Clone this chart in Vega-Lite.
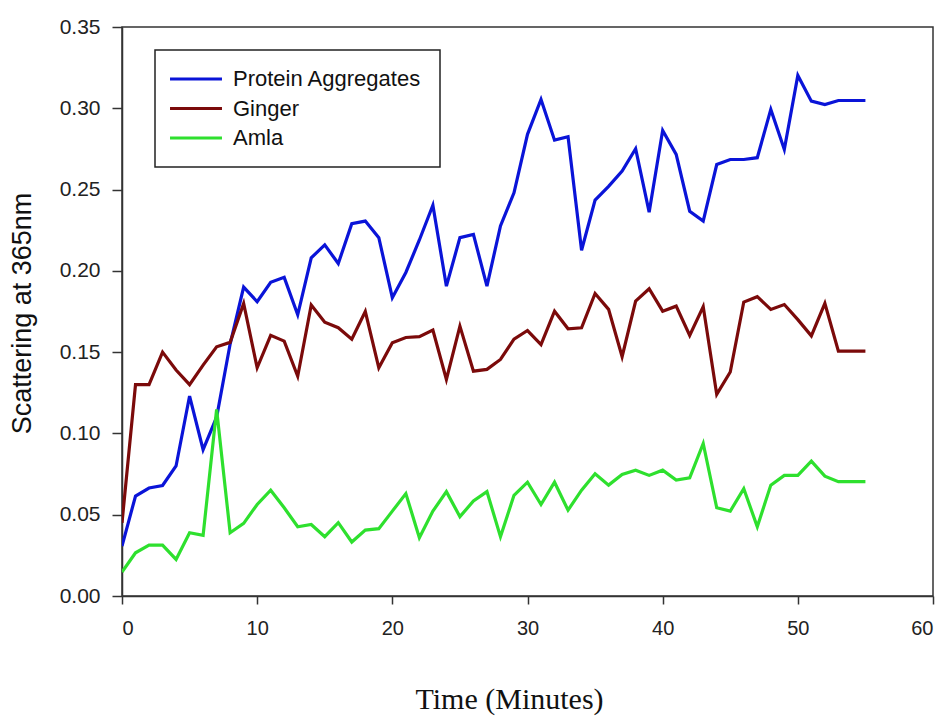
{
  "$schema": "https://vega.github.io/schema/vega-lite/v6.json",
  "autosize": "none",
  "width": 811,
  "height": 569,
  "padding": {"left": 122, "top": 27, "right": 14, "bottom": 121},
  "background": "white",
  "config": {
    "view": {"stroke": "#333", "strokeWidth": 1.5},
    "font": "Liberation Sans"
  },
  "data": {
    "values": [
      {"t":0,"p":0.0307,"g":0.045,"a":0.0147},
      {"t":1,"p":0.0615,"g":0.130,"a":0.0266},
      {"t":2,"p":0.0664,"g":0.130,"a":0.0313},
      {"t":3,"p":0.068,"g":0.150,"a":0.0313},
      {"t":4,"p":0.080,"g":0.139,"a":0.0225},
      {"t":5,"p":0.123,"g":0.130,"a":0.0389},
      {"t":6,"p":0.090,"g":0.142,"a":0.0373},
      {"t":7,"p":0.110,"g":0.1533,"a":0.1148},
      {"t":8,"p":0.155,"g":0.156,"a":0.0389},
      {"t":9,"p":0.190,"g":0.180,"a":0.0447},
      {"t":10,"p":0.181,"g":0.1404,"a":0.0563},
      {"t":11,"p":0.193,"g":0.1603,"a":0.0651},
      {"t":12,"p":0.196,"g":0.1568,"a":0.0543},
      {"t":13,"p":0.173,"g":0.1352,"a":0.0426},
      {"t":14,"p":0.208,"g":0.179,"a":0.044},
      {"t":15,"p":0.216,"g":0.1684,"a":0.0365},
      {"t":16,"p":0.2045,"g":0.165,"a":0.0451},
      {"t":17,"p":0.229,"g":0.158,"a":0.0332},
      {"t":18,"p":0.2306,"g":0.175,"a":0.0405},
      {"t":19,"p":0.2204,"g":0.1404,"a":0.0414},
      {"t":20,"p":0.1835,"g":0.1558,"a":0.0522},
      {"t":21,"p":0.199,"g":0.159,"a":0.063},
      {"t":22,"p":0.219,"g":0.1595,"a":0.0359},
      {"t":23,"p":0.2404,"g":0.1636,"a":0.0522},
      {"t":24,"p":0.1906,"g":0.1332,"a":0.0642},
      {"t":25,"p":0.2204,"g":0.166,"a":0.0488},
      {"t":26,"p":0.2224,"g":0.1383,"a":0.0584},
      {"t":27,"p":0.1906,"g":0.1394,"a":0.0642},
      {"t":28,"p":0.2276,"g":0.1455,"a":0.0365},
      {"t":29,"p":0.248,"g":0.158,"a":0.0619},
      {"t":30,"p":0.284,"g":0.1633,"a":0.070},
      {"t":31,"p":0.3054,"g":0.1547,"a":0.0563},
      {"t":32,"p":0.2804,"g":0.1752,"a":0.070},
      {"t":33,"p":0.2825,"g":0.1644,"a":0.0528},
      {"t":34,"p":0.2127,"g":0.165,"a":0.0651},
      {"t":35,"p":0.2435,"g":0.1861,"a":0.0752},
      {"t":36,"p":0.252,"g":0.1763,"a":0.0682},
      {"t":37,"p":0.2614,"g":0.1472,"a":0.0748},
      {"t":38,"p":0.2751,"g":0.1814,"a":0.0774},
      {"t":39,"p":0.2361,"g":0.189,"a":0.0742},
      {"t":40,"p":0.2863,"g":0.1752,"a":0.0774},
      {"t":41,"p":0.2716,"g":0.1783,"a":0.0713},
      {"t":42,"p":0.2367,"g":0.1603,"a":0.0727},
      {"t":43,"p":0.2306,"g":0.178,"a":0.0938},
      {"t":44,"p":0.2654,"g":0.124,"a":0.0543},
      {"t":45,"p":0.2685,"g":0.1378,"a":0.0522},
      {"t":46,"p":0.2685,"g":0.1808,"a":0.066},
      {"t":47,"p":0.2696,"g":0.1841,"a":0.0426},
      {"t":48,"p":0.2993,"g":0.1763,"a":0.0682},
      {"t":49,"p":0.2747,"g":0.1793,"a":0.0742},
      {"t":50,"p":0.3202,"g":0.170,"a":0.0742},
      {"t":51,"p":0.3044,"g":0.160,"a":0.083},
      {"t":52,"p":0.3023,"g":0.180,"a":0.0737},
      {"t":53,"p":0.3048,"g":0.1506,"a":0.0703},
      {"t":54,"p":0.3048,"g":0.1506,"a":0.0703},
      {"t":55,"p":0.3048,"g":0.1506,"a":0.0703}
    ]
  },
  "transform": [
    {"fold": ["p", "g", "a"], "as": ["key", "value"]},
    {"lookup": "key", "from": {"data": {"values": [
      {"key": "p", "series": "Protein Aggregates"},
      {"key": "g", "series": "Ginger"},
      {"key": "a", "series": "Amla"}
    ]}, "key": "key", "fields": ["series"]}}
  ],
  "mark": {"type": "line", "strokeWidth": 3.2, "clip": true},
  "encoding": {
    "x": {
      "field": "t", "type": "quantitative",
      "scale": {"domain": [0, 60], "nice": false, "zero": false},
      "axis": {
        "values": [0, 10, 20, 30, 40, 50, 60],
        "title": "Time (Minutes)",
        "titleFont": "Liberation Serif",
        "titleFontSize": 30,
        "titleFontWeight": "normal",
        "titleColor": "#111",
        "titleX": 387,
        "titleY": 112,
        "titleBaseline": "alphabetic",
        "labelFontSize": 20,
        "labelColor": "#222",
        "labelPadding": 14,
        "tickSize": 8,
        "tickColor": "#333",
        "tickWidth": 1.5,
        "domainColor": "#333",
        "domainWidth": 1.5,
        "grid": false
      }
    },
    "y": {
      "field": "value", "type": "quantitative",
      "scale": {"domain": [0, 0.35], "nice": false},
      "axis": {
        "values": [0, 0.05, 0.1, 0.15, 0.2, 0.25, 0.3, 0.35],
        "format": ".2f",
        "title": "Scattering at 365nm",
        "titleFont": "Liberation Sans",
        "titleFontSize": 27,
        "titleFontWeight": "normal",
        "titleColor": "#111",
        "titleAngle": -90,
        "titleAlign": "center",
        "titleBaseline": "alphabetic",
        "titleX": -92,
        "titleY": 286,
        "labelFontSize": 21,
        "labelColor": "#222",
        "labelPadding": 12,
        "tickSize": 10,
        "tickColor": "#333",
        "tickWidth": 1.5,
        "domainColor": "#333",
        "domainWidth": 1.5,
        "grid": false
      }
    },
    "color": {
      "field": "series", "type": "nominal",
      "sort": ["Protein Aggregates", "Ginger", "Amla"],
      "scale": {
        "domain": ["Protein Aggregates", "Ginger", "Amla"],
        "range": ["#0a14d8", "#7b0a0a", "#2ee02e"]
      },
      "legend": {
        "title": null,
        "orient": "none",
        "legendX": 33,
        "legendY": 23,
        "direction": "vertical",
        "symbolType": "M-3,0H3",
        "symbolSize": 300,
        "symbolStrokeWidth": 3,
        "symbolOffset": 12,
        "labelFontSize": 22,
        "labelColor": "#111",
        "labelOffset": 26,
        "labelLimit": 400,
        "rowPadding": 7.5,
        "padding": 18,
        "strokeColor": "#222",
        "fillColor": "white",
        "cornerRadius": 0,
        "encode": {"legend": {"update": {"strokeWidth": {"value": 1.5}}}}
      }
    },
    "order": {"field": "t", "type": "quantitative"}
  }
}
